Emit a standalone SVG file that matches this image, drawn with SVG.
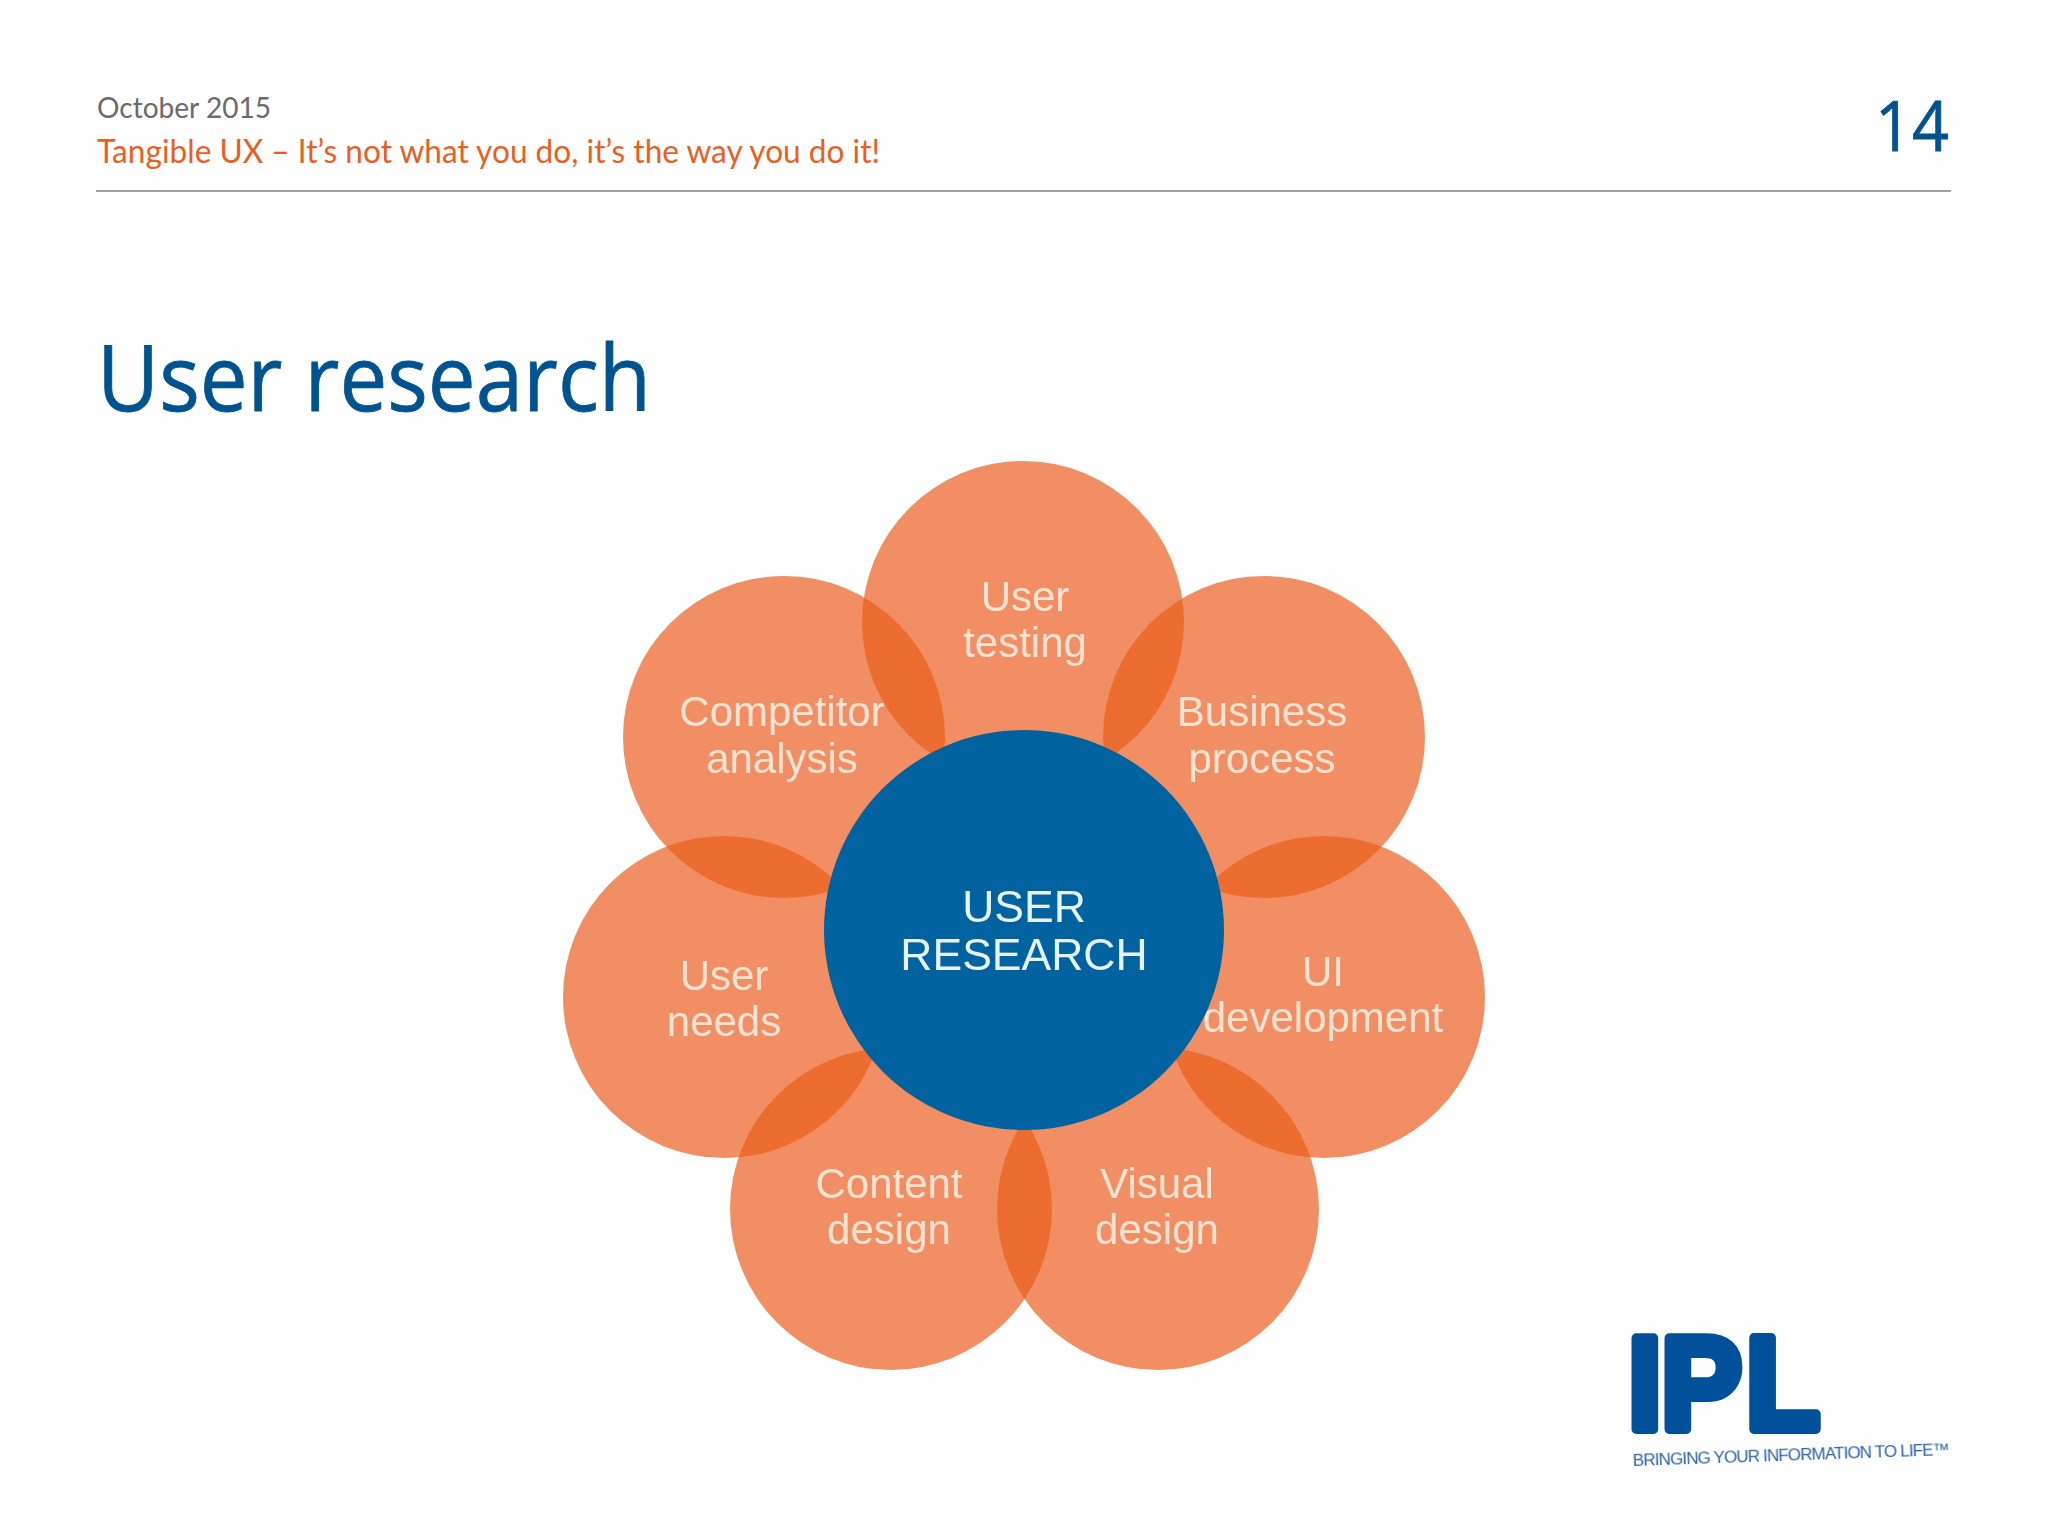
<svg xmlns="http://www.w3.org/2000/svg" width="2048" height="1536" viewBox="0 0 2048 1536">
<defs>
<style>
.hd{font-family:"Lato","Open Sans",sans-serif}
.hd2{font-family:"Open Sans","Lato",sans-serif;stroke:#00538F;stroke-width:.8}
.petal{fill:#EB6020;fill-opacity:.705}
.lbl{font-family:"Liberation Sans",Arial,sans-serif;font-size:42px;fill:#FBE3D4;text-anchor:middle}
.ctr{font-family:"Liberation Sans",Arial,sans-serif;font-size:44.5px;fill:#E6F3FA;text-anchor:middle}
.logo{font-family:"Liberation Sans",Arial,sans-serif;font-weight:700;font-size:132px;fill:#00519A;stroke:#00519A;stroke-width:10;stroke-linejoin:round}
</style>
<filter id="soft" x="-5%" y="-5%" width="110%" height="110%"><feGaussianBlur stdDeviation="0.7"/></filter>
</defs>
<rect width="2048" height="1536" fill="#FEFEFE"/>
<g id="header">
<text class="hd" x="97" y="118" font-size="29" fill="#6B6B6B" textLength="174" lengthAdjust="spacingAndGlyphs">October 2015</text>
<text class="hd" x="97" y="163" font-size="32" fill="#E8601F" textLength="783" lengthAdjust="spacingAndGlyphs">Tangible UX – It’s not what you do, it’s the way you do it!</text>
<text class="hd2" x="1875" y="151" font-size="70" fill="#00538F" textLength="74" lengthAdjust="spacingAndGlyphs">14</text>
<line x1="96" y1="191" x2="1951" y2="191" stroke="#808080" stroke-width="1.5"/>
</g>
<text id="title" class="hd2" x="97" y="411" font-size="92" fill="#00538F" textLength="554" lengthAdjust="spacingAndGlyphs">User research</text>
<g filter="url(#soft)">
<g id="node-user-testing"><circle class="petal" cx="1023" cy="622" r="161"/><text class="lbl" x="1025" y="611">User</text><text class="lbl" x="1025" y="657">testing</text></g>
<g id="node-business-process"><circle class="petal" cx="1264" cy="737" r="161"/><text class="lbl" x="1262" y="726">Business</text><text class="lbl" x="1262" y="773">process</text></g>
<g id="node-ui-development"><circle class="petal" cx="1324" cy="997" r="161"/><text class="lbl" x="1323" y="986">UI</text><text class="lbl" x="1323" y="1032">development</text></g>
<g id="node-visual-design"><circle class="petal" cx="1158" cy="1209" r="161"/><text class="lbl" x="1157" y="1198">Visual</text><text class="lbl" x="1157" y="1244">design</text></g>
<g id="node-content-design"><circle class="petal" cx="891" cy="1209" r="161"/><text class="lbl" x="889" y="1198">Content</text><text class="lbl" x="889" y="1244">design</text></g>
<g id="node-user-needs"><circle class="petal" cx="724" cy="997" r="161"/><text class="lbl" x="724" y="990">User</text><text class="lbl" x="724" y="1036">needs</text></g>
<g id="node-competitor-analysis"><circle class="petal" cx="784" cy="737" r="161"/><text class="lbl" x="782" y="726">Competitor</text><text class="lbl" x="782" y="773">analysis</text></g>
<g id="node-user-research"><circle cx="1024" cy="930" r="200" fill="#05629F"/><text class="ctr" x="1024" y="922">USER</text><text class="ctr" x="1024" y="970">RESEARCH</text></g>
</g>
<g id="connectors"/>
<g id="logo" filter="url(#soft)">
<text class="logo" transform="translate(1628 1429) scale(.92 1)" x="0 36 128" y="0">IPL</text>
<text x="1633" y="1466" transform="rotate(-2 1633 1466)" font-family="Liberation Sans, Arial, sans-serif" font-size="17" fill="#2A62A8" textLength="317" lengthAdjust="spacing">BRINGING YOUR INFORMATION TO LIFE™</text>
</g>
</svg>
